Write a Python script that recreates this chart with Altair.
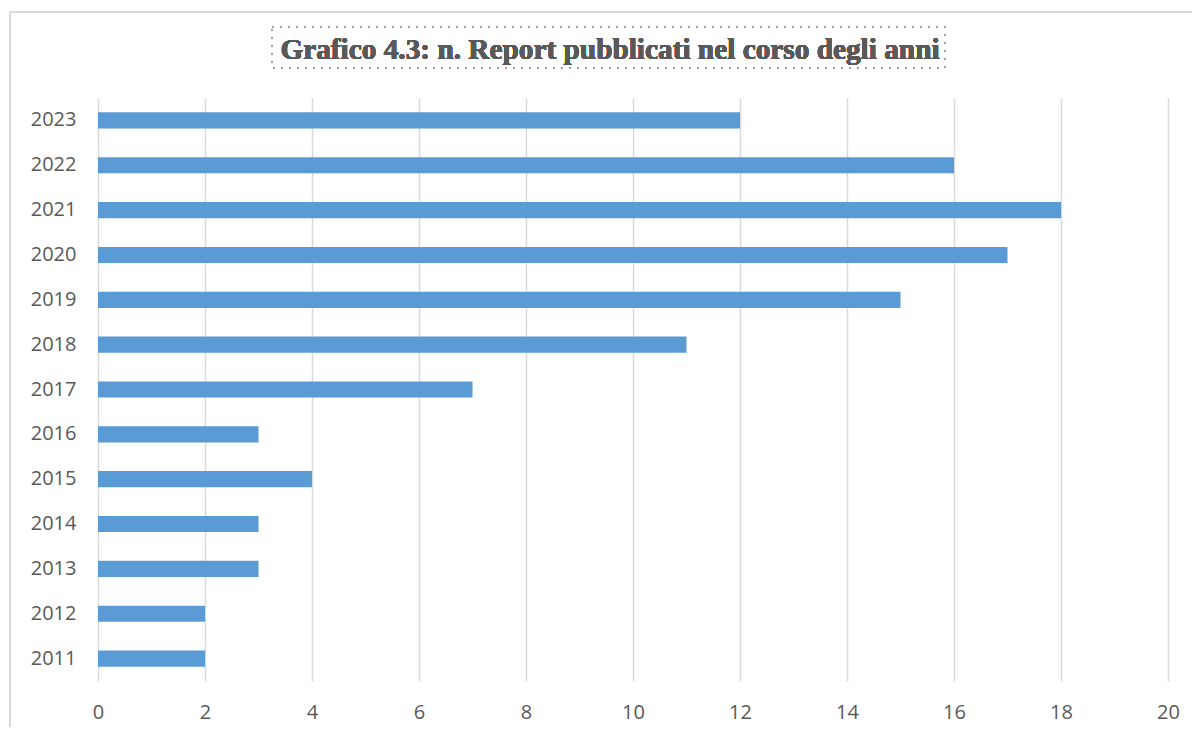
import altair as alt
import pandas as pd

years = ["2011", "2012", "2013", "2014", "2015", "2016", "2017", "2018", "2019", "2020", "2021", "2022", "2023"]
reports = [2, 2, 3, 3, 4, 3, 7, 11, 15, 17, 18, 16, 12]
title_text = "Grafico 4.3: n. Report pubblicati nel corso degli anni"

df = pd.DataFrame({"anno": years, "report": reports})
order = list(reversed(years))

W, H = 1070, 583

bars = alt.Chart(df).mark_bar(color="#5B9BD5").encode(
    x=alt.X("report:Q",
            scale=alt.Scale(domain=[0, 20], nice=False),
            axis=alt.Axis(values=list(range(0, 21, 2)), title=None, grid=True,
                          gridColor="#D9D9D9", gridWidth=1.5, domain=False, ticks=False,
                          labelFont="Open Sans", labelFontSize=20, labelColor="#595959",
                          labelPadding=21, labelBaseline="top", labelFlush=False)),
    y=alt.Y("anno:N", sort=order,
            scale=alt.Scale(paddingInner=0.64, paddingOuter=0.32),
            axis=alt.Axis(title=None, domain=False, ticks=False, grid=False,
                          labelFont="Open Sans", labelFontSize=20, labelColor="#595959",
                          labelPadding=22)),
)

title = alt.Chart(df).mark_text(
    text=title_text, font="Liberation Serif", fontSize=29.3, fontWeight="bold",
    color="#595959", baseline="middle", align="center"
).encode(x=alt.value(512), y=alt.value(-48))

title_box = alt.Chart(df).mark_rect(
    fill=None, stroke="#A0A0A0", strokeWidth=1.5, strokeDash=[1.5, 6.5]
).encode(x=alt.value(174), x2=alt.value(847), y=alt.value(-71), y2=alt.value(-30))

frame_left = alt.Chart(df).mark_rule(color="#D9D9D9", strokeWidth=1.5).encode(
    x=alt.value(-88), y=alt.value(-86), y2=alt.value(H + 80))
frame_top = alt.Chart(df).mark_rule(color="#D9D9D9", strokeWidth=1.5).encode(
    x=alt.value(-88), x2=alt.value(W + 40), y=alt.value(-86))

chart = alt.layer(bars, title_box, title, frame_left, frame_top).properties(
    width=W, height=H,
    autosize=alt.AutoSizeParams(type="none"),
    padding={"left": 90, "top": 90, "right": 24, "bottom": 46},
).configure_view(stroke=None)

chart.save("out.html", embed_options={"renderer": "svg", "actions": False})
